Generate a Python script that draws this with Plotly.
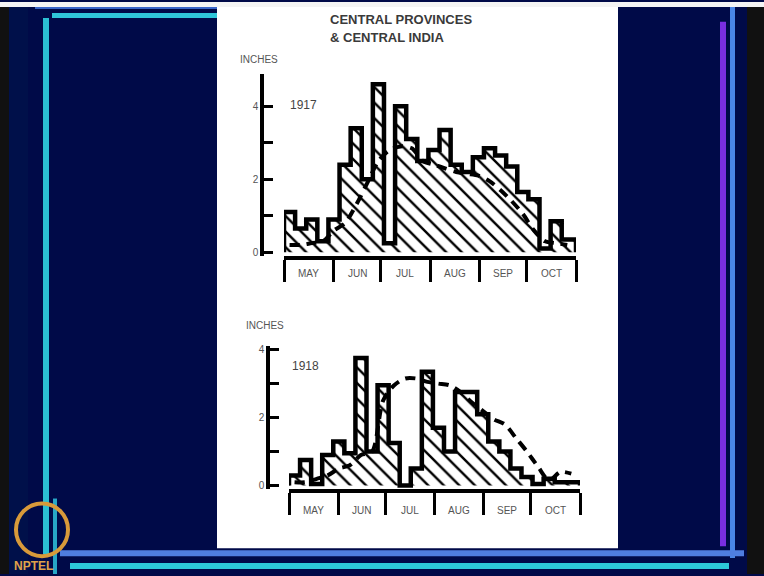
import plotly.graph_objects as go

# ---------------- data ----------------
months = ["MAY", "JUN", "JUL", "AUG", "SEP", "OCT"]
month_days = [31, 30, 31, 31, 30, 31]

# weekly rainfall (inches), 26 weeks from 1 May
rain_1917 = [1.1, 0.65, 0.9, 0.3, 0.9, 2.4, 3.4, 2.0, 4.6, 0.25, 4.0, 3.1, 2.5,
             2.8, 3.35, 2.4, 2.2, 2.6, 2.85, 2.65, 2.35, 1.65, 1.45, 0.1, 0.85, 0.35]
normal_1917 = [0.2, 0.2, 0.25, 0.3, 0.6, 0.8, 1.3, 1.9, 2.5, 2.8, 2.9, 2.85, 2.5,
               2.4, 2.3, 2.2, 2.15, 2.1, 1.95, 1.7, 1.4, 1.05, 0.6, 0.3, 0.25, 0.2]
rain_1918 = [0.3, 0.75, 0.05, 0.9, 1.3, 0.95, 3.75, 1.0, 2.95, 1.25, 0.0, 0.5, 3.35,
             1.7, 1.0, 2.75, 2.75, 2.1, 1.3, 1.0, 0.5, 0.25, 0.05, 0.2, 0.1, 0.1]
normal_1918 = [0.1, 0.1, 0.2, 0.3, 0.5, 0.6, 0.9, 1.0, 2.5, 2.95, 3.15, 3.15, 3.05,
               3.0, 2.95, 2.75, 2.45, 2.2, 1.95, 1.8, 1.4, 1.0, 0.55, 0.15, 0.4, 0.35]
y_ticks = [0, 1, 2, 3, 4]
y_tick_text = ["0", "", "2", "", "4"]

# ---------------- derived scale helpers ----------------
total_days = sum(month_days)
bounds = [0]
for d in month_days:
    bounds.append(bounds[-1] + d)
centers = [(bounds[i] + bounds[i + 1]) / 2 for i in range(len(months))]
week_start = [7 * i for i in range(len(rain_1917))]
week_mid = [7 * i + 3.5 for i in range(len(rain_1917))]


def step_xy(vals):
    xs = [0] + week_start + [total_days, total_days]
    ys = [0] + vals + [vals[-1], 0]
    return xs, ys


W, H = 764, 576


def px(x):
    return x / W


def py(y):
    return 1 - y / H


fig = go.Figure()

for vals, norm, xa, ya in [(rain_1917, normal_1917, "x", "y"), (rain_1918, normal_1918, "x2", "y2")]:
    xs, ys = step_xy(vals)
    fig.add_trace(go.Scatter(
        x=xs, y=ys, xaxis=xa, yaxis=ya, mode="lines",
        line=dict(shape="hv", color="black", width=4.5),
        fill="tozeroy", fillcolor="white",
        fillpattern=dict(shape="\\", fgcolor="black", bgcolor="white", fgopacity=1,
                         size=11, solidity=0.22),
        hoverinfo="skip"))
    fig.add_trace(go.Scatter(
        x=week_mid, y=norm, xaxis=xa, yaxis=ya, mode="lines",
        line=dict(shape="spline", smoothing=0.8, color="black", width=4, dash="10px,7px"),
        hoverinfo="skip"))

axis_font = dict(family="Liberation Sans, Arial", size=10, color="#555")

common_x = dict(range=[0, total_days], showline=True, linecolor="black", linewidth=3.5,
                ticks="outside", tickvals=bounds, ticklen=22, tickwidth=3, tickcolor="black",
                showticklabels=False, showgrid=False, zeroline=False, fixedrange=True)
common_y = dict(showline=True, linecolor="black", linewidth=3.5, ticks="inside",
                ticklen=9, tickwidth=3, tickcolor="black", showgrid=False, zeroline=False,
                tickfont=axis_font, anchor="free", fixedrange=True)

top_range = [-0.1, 4.87]
bot_range = [-0.1, 4.1]

fig.update_layout(
    width=W, height=H, margin=dict(l=0, r=0, t=0, b=0),
    paper_bgcolor="#000a48", plot_bgcolor="rgba(0,0,0,0)", showlegend=False,
    xaxis=dict(domain=[px(284), px(576)], anchor="y", **common_x),
    yaxis=dict(domain=[py(255.7), py(73)], range=top_range, position=px(262),
               tickvals=y_ticks + [top_range[1]], ticktext=y_tick_text + [""], **common_y),
    xaxis2=dict(domain=[px(289), px(580)], anchor="y2", **common_x),
    yaxis2=dict(domain=[py(490.4), py(346.6)], range=bot_range, position=px(268),
                tickvals=y_ticks + [bot_range[1]], ticktext=y_tick_text + [""], **common_y),
)

# ---------------- slide decorations ----------------
shapes = []


def rect(x0, y0, x1, y1, color):
    shapes.append(dict(type="rect", xref="paper", yref="paper", x0=px(x0), x1=px(x1),
                       y0=py(y1), y1=py(y0), fillcolor=color, line=dict(width=0), layer="below"))


rect(0, 0, 764, 5, "#f4f4f4")
rect(0, 5, 9, 576, "#111111")
rect(747, 5, 764, 576, "#111111")
rect(9, 5, 28, 576, "#00104a")
rect(52, 11, 217, 16, "#2fc6da")
rect(35, 5, 217, 7, "#3a66c8")
rect(43, 16, 49, 556, "#2bbfd3")
rect(53, 500, 57, 576, "#27a7c7")
rect(720, 20, 726, 548, "#7a2ee0")
rect(730, 5, 735, 560, "#4a86e6")
rect(60, 552, 744, 558, "#4f7ee0")
rect(70, 565, 729, 571, "#2cc9d9")
rect(217, 5, 618, 550, "white")
shapes.append(dict(type="circle", xref="paper", yref="paper", x0=px(16), x1=px(68),
                   y0=py(558), y1=py(505), line=dict(color="#d89a3a", width=4),
                   fillcolor="rgba(0,0,0,0)", layer="below"))
fig.update_layout(shapes=shapes)

# ---------------- text ----------------
ann = []
title_font = dict(family="Liberation Sans, Arial", size=13, color="#3a3a3a")
ann.append(dict(text="<b>CENTRAL PROVINCES</b>", x=px(328), y=py(18), xref="paper", yref="paper",
                xanchor="left", yanchor="middle", showarrow=False, font=title_font))
ann.append(dict(text="<b>&amp; CENTRAL INDIA</b>", x=px(328), y=py(36), xref="paper", yref="paper",
                xanchor="left", yanchor="middle", showarrow=False, font=title_font))
small = dict(family="Liberation Sans, Arial", size=10, color="#555")
lab = dict(family="Liberation Sans, Arial", size=12, color="#444")
for txt, x, y, f in [("INCHES", 238, 58, small), ("1917", 288, 104, lab),
                     ("INCHES", 244, 326, small), ("1918", 290, 367, lab)]:
    ann.append(dict(text=txt, x=px(x), y=py(y), xref="paper", yref="paper", xanchor="left",
                    yanchor="middle", showarrow=False, font=f))
for m, c in zip(months, centers):
    ann.append(dict(text=m, x=c, y=py(273), xref="x", yref="paper", showarrow=False,
                    yanchor="middle", font=small))
    ann.append(dict(text=m, x=c, y=py(512), xref="x2", yref="paper", showarrow=False,
                    yanchor="middle", font=small))
ann.append(dict(text="<b>NPTEL</b>", x=px(12), y=py(568), xref="paper", yref="paper",
                xanchor="left", yanchor="middle", showarrow=False,
                font=dict(family="Liberation Sans, Arial", size=12, color="#e0a24a")))
fig.update_layout(annotations=ann)

fig.write_html("out.html", config={"displayModeBar": False},
               post_script="document.body.style.margin='0';")
